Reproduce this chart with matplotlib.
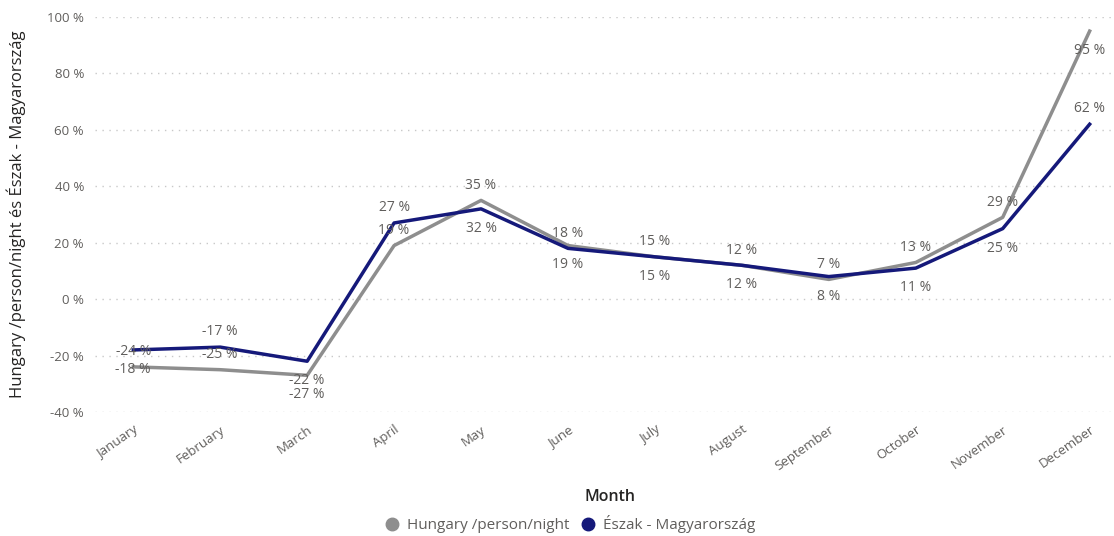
import matplotlib
matplotlib.use("Agg")
import matplotlib.pyplot as plt
from matplotlib.lines import Line2D

plt.rcParams['font.family'] = ['Open Sans', 'DejaVu Sans']

months = ["January", "February", "March", "April", "May", "June", "July",
          "August", "September", "October", "November", "December"]
hungary = [-24, -25, -27, 19, 35, 19, 15, 12, 7, 13, 29, 95]
eszak = [-18, -17, -22, 27, 32, 18, 15, 12, 8, 11, 25, 62]
# label placement: 1 = above the point, -1 = below
hungary_lbl = [1, 1, -1, 1, 1, -1, 1, 1, 1, 1, 1, -1]
eszak_lbl = [-1, 1, -1, 1, -1, 1, -1, -1, -1, -1, -1, 1]
yticks = [-40, -20, 0, 20, 40, 60, 80, 100]

gray = "#8E8E8E"
navy = "#15197A"
txt = "#605E5C"
dark = "#252423"

fig = plt.figure(figsize=(11.14, 5.36), dpi=100)
ax = fig.add_axes([0.0853, 0.2313, 0.9147, 0.737])

x = list(range(len(months)))
ax.plot(x, hungary, color=gray, lw=2.5, solid_joinstyle='round', zorder=3)
ax.plot(x, eszak, color=navy, lw=2.5, solid_joinstyle='round', zorder=4)

for xi, v, d in zip(x, hungary, hungary_lbl):
    ax.annotate(f"{v} %", (xi, v), xytext=(0, 11 if d > 0 else -14),
                textcoords='offset points', ha='center', va='center',
                fontsize=10, color=txt, zorder=5)
for xi, v, d in zip(x, eszak, eszak_lbl):
    ax.annotate(f"{v} %", (xi, v), xytext=(0, 11 if d > 0 else -14),
                textcoords='offset points', ha='center', va='center',
                fontsize=10, color=txt, zorder=5)

ax.set_xlim(-0.44, 11.28)
ax.set_ylim(-40, 100)
ax.set_yticks(yticks)
ax.set_yticklabels([f"{t} %" for t in yticks], fontsize=9.5, color=txt)
ax.set_xticks(x)
ax.set_xticklabels(months, rotation=35, ha='right', rotation_mode='anchor',
                   fontsize=9.5, color=txt)
ax.tick_params(axis='both', length=0, pad=8)
ax.grid(axis='y', linestyle=(0, (1, 4)), color="#C8C8C8", lw=1)
for s in ax.spines.values():
    s.set_visible(False)

ax.set_ylabel("Hungary /person/night és Észak - Magyarország", fontsize=12,
              color=dark, labelpad=10)
ax.yaxis.set_label_coords(-0.068, 0.5)
fig.text(0.548, 0.073, "Month", ha='center', va='center', fontsize=11.5,
         color=dark, fontweight='semibold')

handles = [Line2D([], [], marker='o', ls='', color=gray, markersize=9),
           Line2D([], [], marker='o', ls='', color=navy, markersize=9)]
fig.legend(handles, ["Hungary /person/night", "Észak - Magyarország"],
           loc='center', bbox_to_anchor=(0.508, 0.022), ncol=2, frameon=False,
           fontsize=11, handletextpad=0.0, columnspacing=0.2,
           labelcolor=txt)

fig.savefig("out.png", dpi=100)
